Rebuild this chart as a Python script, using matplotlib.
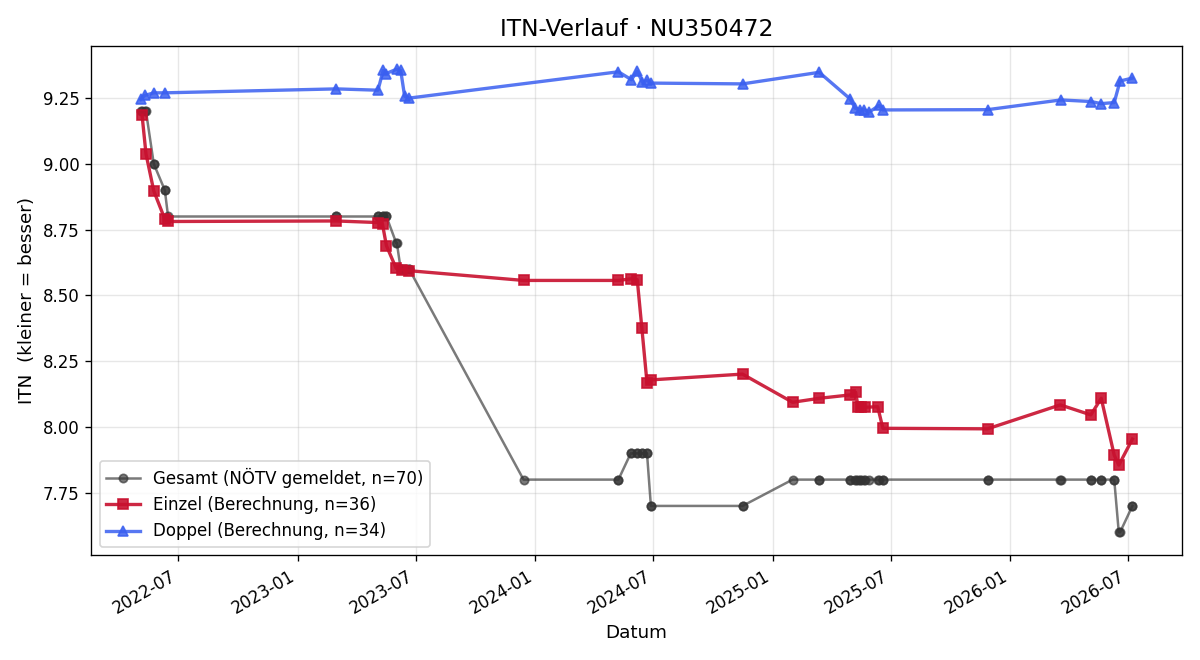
import numpy as np
import pandas as pd
import matplotlib
matplotlib.use("Agg")
import matplotlib.pyplot as plt
import matplotlib.dates as mdates

# ITN history per date
einzel_dates = ["2022-05-06", "2022-05-12", "2022-05-24", "2022-06-10", "2022-06-15",
                "2023-03-01", "2023-05-04", "2023-05-11", "2023-05-17", "2023-06-01",
                "2023-06-10", "2023-06-21", "2023-12-14", "2024-05-08", "2024-05-27",
                "2024-06-06", "2024-06-13", "2024-06-21", "2024-06-27", "2024-11-15",
                "2025-01-31", "2025-03-13", "2025-04-30", "2025-05-08", "2025-05-12",
                "2025-05-16", "2025-05-22", "2025-06-11", "2025-06-19", "2025-11-27",
                "2026-03-19", "2026-05-05", "2026-05-21", "2026-06-10", "2026-06-17",
                "2026-07-08"]
einzel_itn = [9.184, 9.038, 8.897, 8.790, 8.781,
              8.783, 8.777, 8.770, 8.689, 8.603,
              8.598, 8.594, 8.557, 8.557, 8.563,
              8.560, 8.378, 8.168, 8.179, 8.201,
              8.094, 8.109, 8.122, 8.132, 8.075,
              8.075, 8.075, 8.077, 7.995, 7.993,
              8.084, 8.046, 8.109, 7.893, 7.855,
              7.954]

doppel_dates = ["2022-05-04", "2022-05-10", "2022-05-24", "2022-06-10", "2023-03-01",
                "2023-05-04", "2023-05-12", "2023-05-16", "2023-06-02", "2023-06-08",
                "2023-06-14", "2023-06-21", "2024-05-08", "2024-05-28", "2024-06-06",
                "2024-06-14", "2024-06-21", "2024-06-27", "2024-11-15", "2025-03-13",
                "2025-04-30", "2025-05-07", "2025-05-15", "2025-05-21", "2025-05-29",
                "2025-06-13", "2025-06-19", "2025-11-27", "2026-03-20", "2026-05-05",
                "2026-05-21", "2026-06-10", "2026-06-19", "2026-07-08"]
doppel_itn = [9.245, 9.260, 9.270, 9.270, 9.285,
              9.280, 9.355, 9.343, 9.360, 9.355,
              9.257, 9.250, 9.350, 9.320, 9.352,
              9.310, 9.318, 9.307, 9.304, 9.348,
              9.246, 9.212, 9.206, 9.206, 9.197,
              9.222, 9.205, 9.206, 9.243, 9.237,
              9.229, 9.233, 9.315, 9.326]

gesamt_dates = ["2022-05-04", "2022-05-06", "2022-05-10", "2022-05-12", "2022-05-24",
                "2022-05-24", "2022-06-10", "2022-06-10", "2022-06-15", "2023-03-01",
                "2023-03-01", "2023-05-04", "2023-05-04", "2023-05-11", "2023-05-12",
                "2023-05-16", "2023-05-17", "2023-06-01", "2023-06-02", "2023-06-08",
                "2023-06-10", "2023-06-14", "2023-06-21", "2023-06-21", "2023-12-14",
                "2024-05-08", "2024-05-08", "2024-05-27", "2024-05-28", "2024-06-06",
                "2024-06-06", "2024-06-13", "2024-06-14", "2024-06-21", "2024-06-21",
                "2024-06-27", "2024-06-27", "2024-11-15", "2024-11-15", "2025-01-31",
                "2025-03-13", "2025-03-13", "2025-04-30", "2025-04-30", "2025-05-07",
                "2025-05-08", "2025-05-12", "2025-05-15", "2025-05-16", "2025-05-21",
                "2025-05-22", "2025-05-29", "2025-06-11", "2025-06-13", "2025-06-19",
                "2025-06-19", "2025-11-27", "2025-11-27", "2026-03-19", "2026-03-20",
                "2026-05-05", "2026-05-05", "2026-05-21", "2026-05-21", "2026-06-10",
                "2026-06-10", "2026-06-17", "2026-06-19", "2026-07-08", "2026-07-08"]
gesamt_itn = [9.2, 9.2, 9.2, 9.2, 9.0,
              9.0, 8.9, 8.9, 8.8, 8.8,
              8.8, 8.8, 8.8, 8.8, 8.8,
              8.8, 8.8, 8.7, 8.7, 8.6,
              8.6, 8.6, 8.6, 8.6, 7.8,
              7.8, 7.8, 7.9, 7.9, 7.9,
              7.9, 7.9, 7.9, 7.9, 7.9,
              7.7, 7.7, 7.7, 7.7, 7.8,
              7.8, 7.8, 7.8, 7.8, 7.8,
              7.8, 7.8, 7.8, 7.8, 7.8,
              7.8, 7.8, 7.8, 7.8, 7.8,
              7.8, 7.8, 7.8, 7.8, 7.8,
              7.8, 7.8, 7.8, 7.8, 7.8,
              7.8, 7.6, 7.6, 7.7, 7.7]

fig, ax = plt.subplots(figsize=(10, 5.5), dpi=120)

ax.plot(pd.to_datetime(gesamt_dates), gesamt_itn, color="#333333", alpha=0.65,
        linewidth=1.5, marker="o", markersize=5,
        label=f"Gesamt (NÖTV gemeldet, n={len(gesamt_itn)})")
ax.plot(pd.to_datetime(einzel_dates), einzel_itn, color="#c8102e", alpha=0.9,
        linewidth=2, marker="s", markersize=6.5,
        label=f"Einzel (Berechnung, n={len(einzel_itn)})")
ax.plot(pd.to_datetime(doppel_dates), doppel_itn, color="#3a5ff0", alpha=0.85,
        linewidth=2, marker="^", markersize=6.5,
        label=f"Doppel (Berechnung, n={len(doppel_itn)})")

ax.set_title("ITN-Verlauf · NU350472", fontsize=14)
ax.set_xlabel("Datum", fontsize=11)
ax.set_ylabel("ITN  (kleiner = besser)", fontsize=11)
ax.grid(True, alpha=0.3)
ax.yaxis.set_major_formatter(matplotlib.ticker.FormatStrFormatter("%.2f"))
ax.xaxis.set_major_locator(mdates.MonthLocator(bymonth=[1, 7]))
ax.xaxis.set_major_formatter(mdates.DateFormatter("%Y-%m"))
ax.legend(loc="lower left")
fig.autofmt_xdate()
fig.tight_layout()
fig.savefig("out.png")
